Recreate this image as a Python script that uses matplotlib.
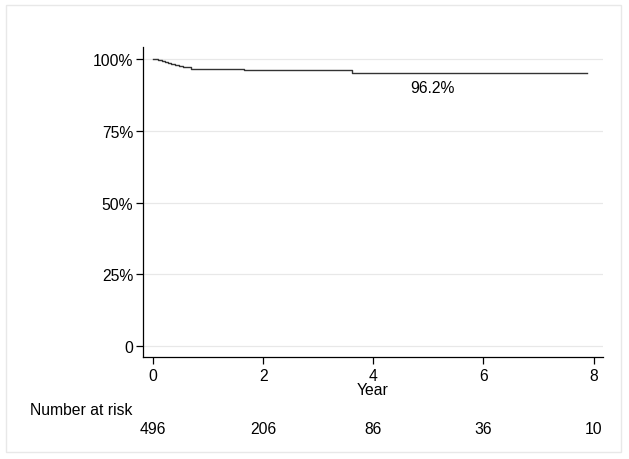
import matplotlib.pyplot as plt
from matplotlib.patches import Rectangle
from matplotlib.transforms import blended_transform_factory

plt.rcParams['font.family'] = ['Liberation Sans', 'DejaVu Sans']
plt.rcParams['font.size'] = 11.3

# Kaplan-Meier step values (years, % surviving)
km_time = [0.0, 0.09, 0.16, 0.22, 0.27, 0.33, 0.40, 0.47, 0.54, 0.70, 1.65, 3.62, 7.88]
km_surv = [100.0, 99.7, 99.3, 99.0, 98.6, 98.2, 97.9, 97.5, 97.1, 96.7, 96.2, 95.2, 95.2]

risk_years = [0, 2, 4, 6, 8]
risk_counts = [496, 206, 86, 36, 10]

y_ticks = [0, 25, 50, 75, 100]
y_labels = ['0', '25%', '50%', '75%', '100%']

fig = plt.figure(figsize=(6.29, 4.60), dpi=100)
fig.patches.append(Rectangle((6 / 629, 1 - 453 / 460), 615 / 629, 447 / 460,
                             transform=fig.transFigure, fill=False,
                             edgecolor='#e8e8e8', linewidth=1))

ax = fig.add_axes([143 / 629, 1 - 358 / 460, 460 / 629, 310 / 460])

for y in y_ticks:
    ax.axhline(y, color='#e8e8e8', linewidth=0.9, zorder=0)

ax.step(km_time, km_surv, where='post', color='#333333', linewidth=1.0)

ax.text(5.08, 90.2, '96.2%', ha='center', va='center')

ax.set_xlim(-0.18, 8.17)
ax.set_ylim(-3.83, 104.2)
ax.set_xticks(risk_years)
ax.set_yticks(y_ticks)
ax.set_yticklabels(y_labels)
ax.tick_params(direction='out', length=5, width=0.9, color='black', pad=2)
ax.tick_params(axis='x', pad=3)
ax.spines['top'].set_visible(False)
ax.spines['right'].set_visible(False)
ax.spines['left'].set_linewidth(0.9)
ax.spines['bottom'].set_linewidth(0.9)
ax.set_xlabel('Year', labelpad=-1)

# number-at-risk table under the axis
tr = blended_transform_factory(ax.transData, fig.transFigure)
fig.text(30 / 629, 1 - 411 / 460, 'Number at risk', ha='left', va='center')
for yr, n in zip(risk_years, risk_counts):
    ax.text(yr, 1 - 430 / 460, str(n), transform=tr, ha='center', va='center',
            clip_on=False)

plt.savefig('out.png', dpi=100)
